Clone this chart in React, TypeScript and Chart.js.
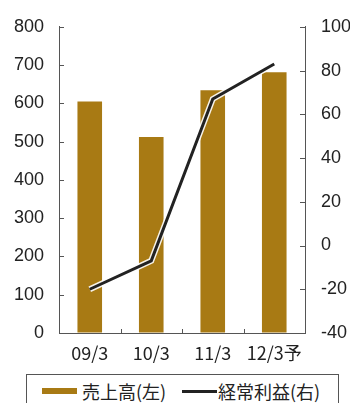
import React, { useEffect, useRef } from "react";
import { Chart, registerables } from "chart.js";

Chart.register(...registerables);

const categories = ["09/3", "10/3", "11/3", "12/3予"];
const salesValues = [605, 512, 634, 681];
const profitValues = [-20, -7, 67, 83];
const leftTicks = [0, 100, 200, 300, 400, 500, 600, 700, 800];
const rightTicks = [-40, -20, 0, 20, 40, 60, 80, 100];
const salesLabel = "売上高(左)";
const profitLabel = "経常利益(右)";

const GOLD = "#a87a14";
const INK = "#222222";
const NUM_FONT = "'Liberation Sans', Arial, sans-serif";
const JP_FONT = "'Noto Sans CJK JP', 'Liberation Sans', sans-serif";

const innerTicks = {
  id: "innerTicks",
  afterDatasetsDraw(chart: any) {
    const { ctx, chartArea, scales } = chart;
    ctx.save();
    ctx.strokeStyle = "#555";
    ctx.lineWidth = 1;
    const y = scales.y;
    const y1 = scales.y1;
    const x = scales.x;
    ctx.beginPath();
    leftTicks.forEach((v) => {
      const p = Math.round(y.getPixelForValue(v)) + 0.5;
      ctx.moveTo(chartArea.left, p);
      ctx.lineTo(chartArea.left + 5, p);
    });
    rightTicks.forEach((v) => {
      const p = Math.round(y1.getPixelForValue(v)) + 0.5;
      ctx.moveTo(chartArea.right, p);
      ctx.lineTo(chartArea.right - 5, p);
    });
    for (let i = 1; i < categories.length; i++) {
      const a = x.getPixelForValue(i - 1);
      const b = x.getPixelForValue(i);
      const p = Math.round((a + b) / 2) + 0.5;
      ctx.moveTo(p, chartArea.bottom);
      ctx.lineTo(p, chartArea.bottom - 4);
    }
    ctx.stroke();
    ctx.restore();
  },
};

export default function App() {
  const ref = useRef<HTMLCanvasElement | null>(null);

  useEffect(() => {
    if (!ref.current) return;
    const chart = new Chart(ref.current, {
      type: "bar",
      data: {
        labels: categories,
        datasets: [
          {
            type: "line",
            label: profitLabel,
            data: profitValues,
            yAxisID: "y1",
            borderColor: INK,
            borderWidth: 3,
            pointRadius: 0,
            tension: 0,
            order: 1,
          } as any,
          {
            type: "line",
            label: "halo",
            data: profitValues,
            yAxisID: "y1",
            borderColor: "rgba(255,255,255,0.9)",
            borderWidth: 6,
            pointRadius: 0,
            tension: 0,
            order: 2,
          } as any,
          {
            type: "bar",
            label: salesLabel,
            data: salesValues,
            yAxisID: "y",
            backgroundColor: GOLD,
            barPercentage: 0.4,
            categoryPercentage: 1,
            order: 3,
          },
        ],
      },
      options: {
        animation: false,
        responsive: false,
        maintainAspectRatio: false,
        layout: { padding: { top: 22, left: 0, right: 0, bottom: 0 } },
        plugins: {
          legend: { display: false },
          tooltip: { enabled: false },
          title: { display: false },
        },
        scales: {
          x: {
            grid: { display: false },
            border: { display: true, color: "#555", width: 1 },
            ticks: {
              color: INK,
              font: { family: JP_FONT, size: 18 },
              padding: 1,
              maxRotation: 0,
              autoSkip: false,
            },
            afterFit(scale: any) {
              scale.height = 37;
            },
          },
          y: {
            position: "left",
            min: 0,
            max: 800,
            grid: { drawOnChartArea: false, drawTicks: false },
            border: { display: true, color: "#555", width: 1 },
            ticks: {
              stepSize: 100,
              color: INK,
              font: { family: NUM_FONT, size: 18 },
              padding: 15,
            },
            afterFit(scale: any) {
              scale.width = 59;
            },
          },
          y1: {
            position: "right",
            min: -40,
            max: 100,
            grid: { drawOnChartArea: false, drawTicks: false },
            border: { display: true, color: "#555", width: 1 },
            ticks: {
              stepSize: 20,
              color: INK,
              font: { family: NUM_FONT, size: 18 },
              padding: 16,
              callback: (v: any) => (Number(v) < 0 ? "-" + Math.abs(Number(v)) : String(v)),
            },
            afterFit(scale: any) {
              scale.width = 45;
            },
          },
        },
      },
      plugins: [innerTicks],
    });
    return () => chart.destroy();
  }, []);

  return (
    <div
      style={{
        position: "absolute",
        left: 0,
        top: 0,
        width: 350,
        height: 403,
        background: "#fff",
        overflow: "hidden",
      }}
    >
      <canvas
        ref={ref}
        width={350}
        height={370}
        style={{ position: "absolute", left: 0, top: 0, width: 350, height: 370 }}
      />
      <div
        style={{
          position: "absolute",
          left: 26,
          top: 374,
          width: 313,
          height: 40,
          border: "1px solid #555",
          boxSizing: "border-box",
        }}
      >
        <div
          style={{
            position: "absolute",
            left: 15,
            top: 13,
            width: 35,
            height: 6,
            background: GOLD,
          }}
        />
        <div
          style={{
            position: "absolute",
            left: 55,
            top: 3,
            fontFamily: JP_FONT,
            fontSize: 18,
            lineHeight: "26px",
            color: INK,
            whiteSpace: "nowrap",
          }}
        >
          {salesLabel}
        </div>
        <div
          style={{
            position: "absolute",
            left: 155,
            top: 15,
            width: 35,
            height: 3,
            background: INK,
          }}
        />
        <div
          style={{
            position: "absolute",
            left: 191,
            top: 3,
            fontFamily: JP_FONT,
            fontSize: 18,
            lineHeight: "26px",
            color: INK,
            whiteSpace: "nowrap",
          }}
        >
          {profitLabel}
        </div>
      </div>
    </div>
  );
}
